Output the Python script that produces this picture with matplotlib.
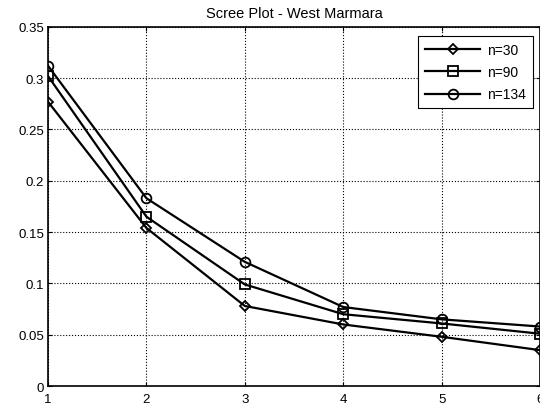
import matplotlib.pyplot as plt

plt.rcParams['font.family'] = ['Liberation Sans', 'DejaVu Sans']

components = [1, 2, 3, 4, 5, 6]
n30 = [0.277, 0.154, 0.078, 0.060, 0.048, 0.035]
n90 = [0.302, 0.165, 0.099, 0.070, 0.061, 0.051]
n134 = [0.312, 0.183, 0.121, 0.077, 0.065, 0.058]
labels = ['n=30', 'n=90', 'n=134']
markers = ['D', 's', 'o']
yticks = [0, 0.05, 0.1, 0.15, 0.2, 0.25, 0.3, 0.35]
yticklabels = ['0', '0.05', '0.1', '0.15', '0.2', '0.25', '0.3', '0.35']

fig = plt.figure(figsize=(5.4, 4.1), dpi=100)
ax = fig.add_axes([0.089, 0.056, 0.911, 0.876])

for vals, lab, m in zip([n30, n90, n134], labels, markers):
    ax.plot(components, vals, color='black', linewidth=1.6, marker=m,
            markersize=5.5 if m == 'D' else 7, markerfacecolor='none',
            markeredgecolor='black', markeredgewidth=1.3, label=lab)

ax.set_xlim(1, 6)
ax.set_ylim(0, 0.35)
ax.set_xticks(components)
ax.set_yticks(yticks)
ax.set_yticklabels(yticklabels)
ax.grid(True, color='black', linestyle=':', linewidth=0.8)
ax.tick_params(direction='in', top=True, right=True, labelsize=9.5, length=3)
ax.tick_params(axis='x', pad=5)
ax.tick_params(axis='y', pad=3)
for s in ax.spines.values():
    s.set_linewidth(1.2)

ax.set_title('Scree Plot - West Marmara', fontsize=10.5, pad=7)

leg = ax.legend(loc='upper right', bbox_to_anchor=(0.986, 0.975), fontsize=10,
                frameon=True, fancybox=False, edgecolor='black',
                handlelength=4.0, borderpad=0.5, labelspacing=0.6,
                handletextpad=0.5, borderaxespad=0)
leg.get_frame().set_linewidth(0.8)
leg.get_frame().set_alpha(1)

fig.savefig('out.png', dpi=100)
